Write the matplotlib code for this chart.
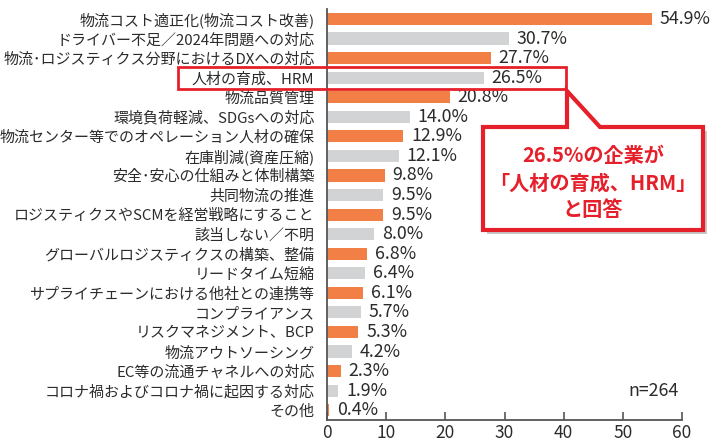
import matplotlib.pyplot as plt
from matplotlib.patches import Polygon, Rectangle

plt.rcParams['font.family'] = ['Noto Sans CJK JP', 'DejaVu Sans']

categories = [
    '物流コスト適正化(物流コスト改善)',
    'ドライバー不足／2024年問題への対応',
    '物流･ロジスティクス分野におけるDXへの対応',
    '人材の育成、HRM',
    '物流品質管理',
    '環境負荷軽減、SDGsへの対応',
    '物流センター等でのオペレーション人材の確保',
    '在庫削減(資産圧縮)',
    '安全･安心の仕組みと体制構築',
    '共同物流の推進',
    'ロジスティクスやSCMを経営戦略にすること',
    '該当しない／不明',
    'グローバルロジスティクスの構築、整備',
    'リードタイム短縮',
    'サプライチェーンにおける他社との連携等',
    'コンプライアンス',
    'リスクマネジメント、BCP',
    '物流アウトソーシング',
    'EC等の流通チャネルへの対応',
    'コロナ禍およびコロナ禍に起因する対応',
    'その他',
]
values = [54.9, 30.7, 27.7, 26.5, 20.8, 14.0, 12.9, 12.1, 9.8, 9.5, 9.5,
          8.0, 6.8, 6.4, 6.1, 5.7, 5.3, 4.2, 2.3, 1.9, 0.4]
x_ticks = [0, 10, 20, 30, 40, 50, 60]
n_label = 'n=264'
callout_lines = ['26.5%の企業が', '「人材の育成、HRM」', 'と回答']

ORANGE = '#F27F45'
GRAY = '#D2D3D5'
RED = '#E6202A'
TEXT = '#2b2b2b'

W, H = 719, 444
fig = plt.figure(figsize=(W / 100, H / 100), dpi=100)


def px(x, y):
    return (x / W, 1 - y / H)


ax = fig.add_axes([327 / W, 1 - 420 / H, (682 - 327) / W, (420 - 9.2) / H])

ypos = list(range(len(categories)))
colors = [ORANGE if i % 2 == 0 else GRAY for i in ypos]
ax.barh(ypos, values, height=0.62, color=colors)

for y, v in zip(ypos, values):
    ax.text(v + 1.3, y, f'{v:.1f}%', va='center', ha='left',
            fontsize=12.8, color=TEXT)

ax.set_ylim(20.5, -0.5)
ax.set_xlim(0, 60)
ax.set_yticks(ypos)
ax.set_yticklabels(categories, fontsize=10.8, color=TEXT)
ax.tick_params(axis='y', length=0, pad=9)
ax.set_xticks(x_ticks)
ax.set_xticklabels([str(t) for t in x_ticks], fontsize=12.5, color=TEXT)
ax.tick_params(axis='x', direction='in', length=6, width=1.2,
               color='#555555', pad=3)
for s in ['top', 'right']:
    ax.spines[s].set_visible(False)
for s in ['left', 'bottom']:
    ax.spines[s].set_color('#555555')
    ax.spines[s].set_linewidth(1.3)

ax.text(59.5, 19, n_label, ha='right', va='center', fontsize=12.8, color=TEXT)

# red frame around the HRM row
fig.patches.append(Rectangle(px(178, 89), (566 - 178) / W, 22 / H,
                             transform=fig.transFigure, fill=False,
                             edgecolor=RED, linewidth=2, zorder=5))

# callout box with pointer and shadow
pts = [(483, 127), (567, 127), (567, 91), (600, 127), (703, 127),
       (703, 230), (483, 230)]
shadow = Polygon([px(x + 4, y + 4) for x, y in pts], closed=True,
                 transform=fig.transFigure, facecolor='#c8c8c8',
                 edgecolor='none', zorder=4)
box = Polygon([px(x, y) for x, y in pts], closed=True,
              transform=fig.transFigure, facecolor='white',
              edgecolor=RED, linewidth=3, joinstyle='miter', zorder=5)
fig.patches.extend([shadow, box])

for line, y in zip(callout_lines, [155, 183, 209]):
    fig.text(*px(593, y), line, ha='center', va='center', fontsize=14.5,
             fontweight='bold', color=RED, zorder=6)

fig.savefig('out.png', dpi=100)
